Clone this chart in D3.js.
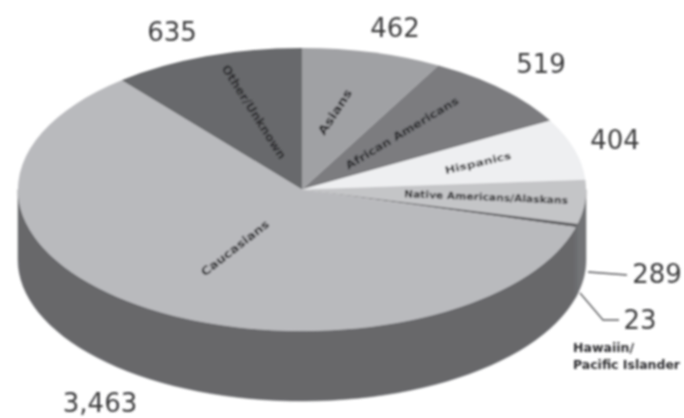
<!DOCTYPE html>
<html><head><meta charset="utf-8">
<script src="https://cdnjs.cloudflare.com/ajax/libs/d3/7.8.5/d3.min.js"></script>
<style>html,body{margin:0;padding:0;background:#fff}svg{display:block}text{font-family:"DejaVu Sans",sans-serif}</style>
</head><body><svg id="c" width="684" height="418"></svg>
<script>
const categories=["Asians","African Americans","Hispanics","Native Americans/Alaskans","Hawaiin/Pacific Islander","Caucasians","Other/Unknown"];
const values=[462,519,404,289,23,3463,635];
const valueLabels=["462","519","404","289","23","3,463","635"];
const topColors=["#a0a1a4","#7b7c7f","#eeeff1","#c4c5c7","#606164","#b9babd","#68696c"];
const wallColors=["#67686b","#67686b","#727376","#727376","#67686b","#67686b","#67686b"];

const W=684,H=418,cx=302,cy=189.5,rx=284,ry=141.5,depth=70;
const svg=d3.select("#c");
const defs=svg.append("defs");
defs.append("filter").attr("id","soft").attr("x","-5%").attr("y","-5%").attr("width","110%").attr("height","110%")
  .append("feGaussianBlur").attr("stdDeviation",0.8);
const root=svg.append("g").attr("filter","url(#soft)");

const slices=d3.pie().sort(null).value(d=>d)(values);
const px=d3.scaleLinear().domain([-1,1]).range([cx-rx,cx+rx]);
const py=d3.scaleLinear().domain([-1,1]).range([cy-ry,cy+ry]);
const pt=(a,dy=0)=>[px(Math.sin(a)),py(-Math.cos(a))+dy];

// side wall: the front half of each slice, dropped by the pie depth
const wallPath=s=>{
  const a0=Math.max(s.startAngle,Math.PI/2),a1=Math.min(s.endAngle,3*Math.PI/2);
  if(a1<=a0) return null;
  const as=d3.range(0,61).map(i=>a0+(a1-a0)*i/60);
  return d3.line()(as.map(a=>pt(a)).concat(as.slice().reverse().map(a=>pt(a,depth))))+"Z";
};
root.append("g").selectAll("path").data(slices).join("path")
  .attr("d",wallPath).attr("fill",(d,i)=>wallColors[i]).attr("stroke",(d,i)=>wallColors[i]).attr("stroke-width",0.5);

// top face
const arc=d3.arc().innerRadius(0).outerRadius(rx);
root.append("g").attr("transform",`translate(${cx},${cy}) scale(1,${ry/rx})`)
  .selectAll("path").data(slices).join("path")
  .attr("d",arc).attr("fill",(d,i)=>topColors[i]);

// leader lines
const leaderLines=[[[588,272],[627,275]],[[580,293],[603,320],[619,320]]];
root.append("g").selectAll("path").data(leaderLines).join("path")
  .attr("d",d=>d3.line()(d)).attr("fill","none").attr("stroke","#58595b").attr("stroke-width",1.3);

// value labels
const valuePlacement=[[395,37],[541,73],[615,149],[657,283],[640,329],[100,412],[172,41]];
root.append("g").selectAll("text").data(valueLabels).join("text")
  .attr("x",(d,i)=>valuePlacement[i][0]).attr("y",(d,i)=>valuePlacement[i][1])
  .attr("text-anchor","middle").attr("font-size",26).attr("fill","#3c3c3e").text(d=>d);

// labels lying on the slices: centre x, centre y, angle, drawn length, font size
const namePlacement=[[335,112,-57,52,12],[402,133,-31,130,11],[478,163,-13,68,10],[486,197,2.3,164,10],null,[235,248,-38,83,11.5],[254,112,57.5,109,12]];
root.append("g").selectAll("text").data(categories).join("text")
  .filter((d,i)=>namePlacement[i])
  .each(function(d){
    const p=namePlacement[categories.indexOf(d)];
    d3.select(this).attr("transform",`translate(${p[0]},${p[1]}) rotate(${p[2]})`)
      .attr("text-anchor","middle").attr("dy","0.35em").attr("font-size",p[4]).attr("font-weight","bold")
      .attr("fill","#2c2c2e").attr("textLength",p[3]).attr("lengthAdjust","spacingAndGlyphs").text(d);
  });

// Hawaiian caption below the 23
const hawaiianLines=categories[4].replace("/","/\n").split("\n");
const captionLengths=[61,107];
root.append("g").selectAll("text").data(hawaiianLines).join("text")
  .attr("x",573).attr("y",(d,i)=>352+i*17)
  .attr("font-size",12).attr("font-weight","bold").attr("fill","#2c2c2e")
  .attr("textLength",(d,i)=>captionLengths[i]).attr("lengthAdjust","spacingAndGlyphs").text(d=>d);
</script></body></html>
